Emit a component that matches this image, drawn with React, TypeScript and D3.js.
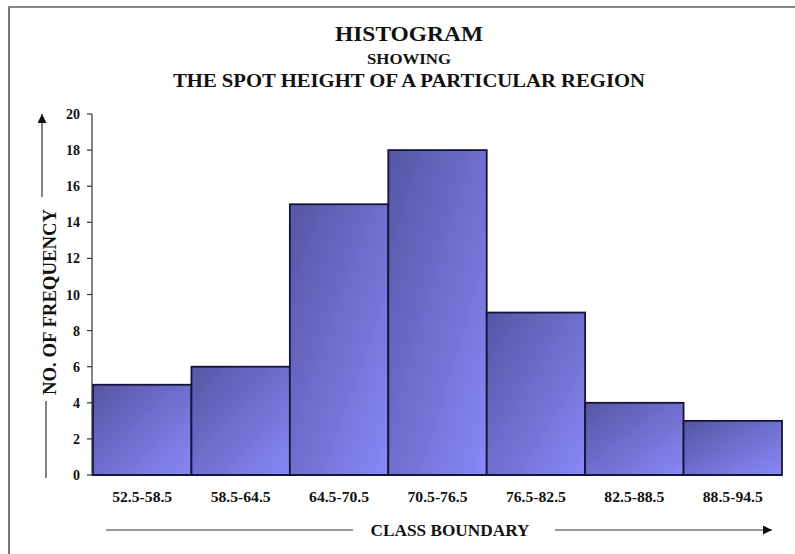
import { useEffect, useRef } from 'react';
import * as d3 from 'd3';

const classes = ['52.5-58.5', '58.5-64.5', '64.5-70.5', '70.5-76.5', '76.5-82.5', '82.5-88.5', '88.5-94.5'];
const frequency = [5, 6, 15, 18, 9, 4, 3];
const yTicks = [0, 2, 4, 6, 8, 10, 12, 14, 16, 18, 20];

const App = () => {
  const ref = useRef<SVGSVGElement>(null);

  useEffect(() => {
    const width = 795;
    const height = 554;
    const font = '"Liberation Serif", "Times New Roman", serif';

    const svg = d3.select(ref.current)
      .attr('width', width)
      .attr('height', height)
      .style('background', '#fff');
    svg.selectAll('*').remove();

    const defs = svg.append('defs');
    const grad = defs.append('linearGradient')
      .attr('id', 'barGrad')
      .attr('x1', 0).attr('y1', 0)
      .attr('x2', 1).attr('y2', 1);
    grad.append('stop').attr('offset', '0%').attr('stop-color', '#5656a4');
    grad.append('stop').attr('offset', '100%').attr('stop-color', '#8888f8');

    const arrow = defs.append('marker')
      .attr('id', 'arrowHead')
      .attr('viewBox', '0 0 10 10')
      .attr('refX', 10).attr('refY', 5)
      .attr('markerWidth', 10).attr('markerHeight', 9)
      .attr('markerUnits', 'userSpaceOnUse')
      .attr('orient', 'auto');
    arrow.append('path').attr('d', 'M0,0 L10,5 L0,10 Z').attr('fill', '#111');

    // frame (left + top only)
    svg.append('line').attr('x1', 8).attr('y1', 7).attr('x2', width).attr('y2', 7)
      .attr('stroke', '#888').attr('stroke-width', 2);
    svg.append('line').attr('x1', 9).attr('y1', 7).attr('x2', 9).attr('y2', height)
      .attr('stroke', '#777').attr('stroke-width', 2);

    // titles
    const titles = [
      { text: 'HISTOGRAM', y: 41, size: 21, len: 148 },
      { text: 'SHOWING', y: 64, size: 15, len: 84 },
      { text: 'THE SPOT HEIGHT OF A PARTICULAR REGION', y: 87, size: 18, len: 472 },
    ];
    svg.selectAll('.title')
      .data(titles)
      .join('text')
      .attr('class', 'title')
      .attr('x', 409)
      .attr('y', (d) => d.y)
      .attr('text-anchor', 'middle')
      .attr('font-family', font)
      .attr('font-weight', 'bold')
      .attr('font-size', (d) => d.size)
      .attr('textLength', (d) => d.len)
      .attr('lengthAdjust', 'spacingAndGlyphs')
      .attr('fill', '#111')
      .text((d) => d.text);

    const x = d3.scaleBand().domain(classes).range([93, 782]).padding(0);
    const y = d3.scaleLinear().domain([0, 20]).range([475, 114]);

    // bars
    svg.selectAll('.bar')
      .data(frequency)
      .join('rect')
      .attr('class', 'bar')
      .attr('x', (d, i) => x(classes[i]))
      .attr('y', (d) => y(d))
      .attr('width', x.bandwidth())
      .attr('height', (d) => y(0) - y(d))
      .attr('fill', 'url(#barGrad)')
      .attr('stroke', '#15153a')
      .attr('stroke-width', 1.8);

    // y axis
    const yAxis = svg.append('g').attr('transform', 'translate(92,0)');
    yAxis.append('line').attr('x1', 0).attr('x2', 0).attr('y1', y(20)).attr('y2', y(0))
      .attr('stroke', '#333').attr('stroke-width', 1.2);
    yAxis.selectAll('.tick')
      .data(yTicks)
      .join('line')
      .attr('x1', -5).attr('x2', 0)
      .attr('y1', (d) => y(d)).attr('y2', (d) => y(d))
      .attr('stroke', '#333').attr('stroke-width', 1.2);
    yAxis.selectAll('.tlabel')
      .data(yTicks)
      .join('text')
      .attr('class', 'tlabel')
      .attr('x', -12)
      .attr('y', (d) => y(d) + 5)
      .attr('text-anchor', 'end')
      .attr('font-family', font)
      .attr('font-weight', 'bold')
      .attr('font-size', 14)
      .attr('fill', '#111')
      .text((d) => d);

    // x axis line
    svg.append('line').attr('x1', 92).attr('x2', 782).attr('y1', y(0)).attr('y2', y(0))
      .attr('stroke', '#15153a').attr('stroke-width', 1.8);

    svg.selectAll('.xlabel')
      .data(classes)
      .join('text')
      .attr('class', 'xlabel')
      .attr('x', (d) => x(d) + x.bandwidth() / 2)
      .attr('y', 502)
      .attr('text-anchor', 'middle')
      .attr('font-family', font)
      .attr('font-weight', 'bold')
      .attr('font-size', 14)
      .attr('textLength', 60)
      .attr('lengthAdjust', 'spacingAndGlyphs')
      .attr('fill', '#111')
      .text((d) => d);

    // x axis title with arrow
    svg.append('text')
      .attr('x', 450)
      .attr('y', 536)
      .attr('text-anchor', 'middle')
      .attr('font-family', font)
      .attr('font-weight', 'bold')
      .attr('font-size', 17)
      .attr('textLength', 159)
      .attr('lengthAdjust', 'spacingAndGlyphs')
      .attr('fill', '#111')
      .text('CLASS BOUNDARY');
    svg.append('line').attr('x1', 106).attr('x2', 353).attr('y1', 530).attr('y2', 530)
      .attr('stroke', '#333').attr('stroke-width', 1.2);
    svg.append('line').attr('x1', 555).attr('x2', 772).attr('y1', 530).attr('y2', 530)
      .attr('stroke', '#333').attr('stroke-width', 1.2)
      .attr('marker-end', 'url(#arrowHead)');

    // y axis title with arrow
    svg.append('text')
      .attr('transform', 'translate(56,302) rotate(-90)')
      .attr('text-anchor', 'middle')
      .attr('font-family', font)
      .attr('font-weight', 'bold')
      .attr('font-size', 18)
      .attr('textLength', 186)
      .attr('lengthAdjust', 'spacingAndGlyphs')
      .attr('fill', '#111')
      .text('NO. OF  FREQUENCY');
    svg.append('line').attr('x1', 42).attr('x2', 42).attr('y1', 197).attr('y2', 114)
      .attr('stroke', '#333').attr('stroke-width', 1.2)
      .attr('marker-end', 'url(#arrowHead)');
    svg.append('line').attr('x1', 46).attr('x2', 46).attr('y1', 401).attr('y2', 478)
      .attr('stroke', '#333').attr('stroke-width', 1.2);
  }, []);

  return (
    <div>
      <svg ref={ref} style={{ position: 'absolute', left: 0, top: 0 }}></svg>
    </div>
  );
};

export default App;
